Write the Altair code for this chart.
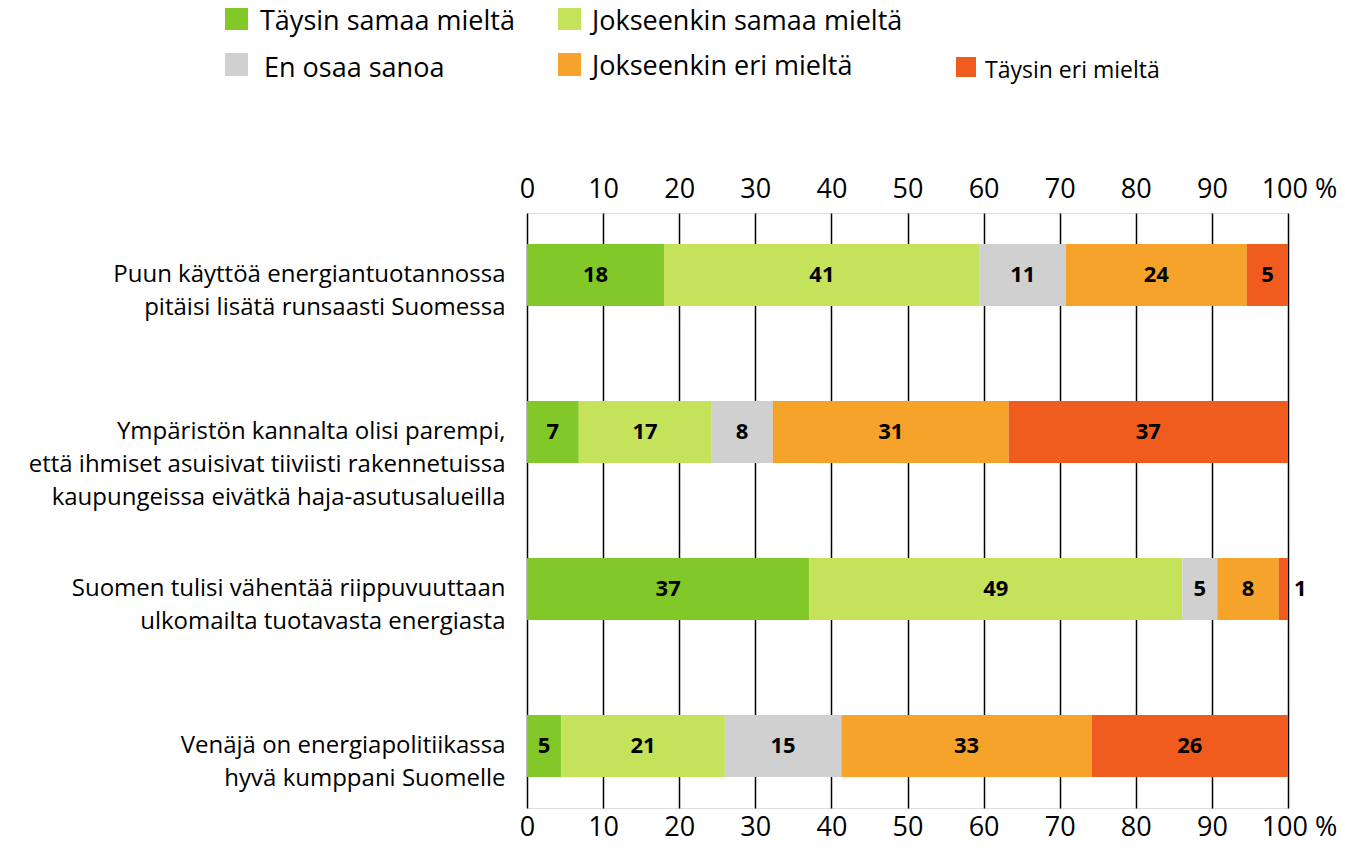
import altair as alt
import pandas as pd

questions = [
    ["Puun käyttöä energiantuotannossa", "pitäisi lisätä runsaasti Suomessa"],
    ["Ympäristön kannalta olisi parempi,", "että ihmiset asuisivat tiiviisti rakennetuissa", "kaupungeissa eivätkä haja-asutusalueilla"],
    ["Suomen tulisi vähentää riippuvuuttaan", "ulkomailta tuotavasta energiasta"],
    ["Venäjä on energiapolitiikassa", "hyvä kumppani Suomelle"],
]
categories = ["Täysin samaa mieltä", "Jokseenkin samaa mieltä", "En osaa sanoa",
              "Jokseenkin eri mieltä", "Täysin eri mieltä"]
colors = ["#82c828", "#c4e25a", "#d0d0d0", "#f6a32b", "#f05c1e"]

# shares (%) as drawn, per question, in category order
values = [
    [18.0, 41.5, 11.3, 23.8, 5.4],
    [6.8, 17.4, 8.1, 31.0, 36.7],
    [37.1, 49.0, 4.6, 8.1, 1.2],
    [4.5, 21.5, 15.3, 32.9, 25.8],
]
# printed labels
labels = [
    [18, 41, 11, 24, 5],
    [7, 17, 8, 31, 37],
    [37, 49, 5, 8, 1],
    [5, 21, 15, 33, 26],
]
x_ticks = [0, 10, 20, 30, 40, 50, 60, 70, 80, 90, 100]

q_names = ["|".join(q) for q in questions]
rows = []
for qi, q in enumerate(q_names):
    for ci, c in enumerate(categories):
        rows.append({"question": q, "category": c, "order": ci,
                     "value": values[qi][ci], "label": str(labels[qi][ci])})
df = pd.DataFrame(rows)

FONT = "Open Sans"

color_scale = alt.Scale(domain=categories, range=colors)
y_enc = alt.Y("question:N", sort=q_names,
              scale=alt.Scale(paddingInner=0.605, paddingOuter=0.197),
              axis=alt.Axis(title=None, labelExpr="split(datum.label, '|')",
                            labelFont=FONT, labelFontSize=24, labelLineHeight=33,
                            labelColor="black", labelPadding=22, labelLimit=600,
                            ticks=False, domain=False, labelAlign="right",
                            labelBaseline="middle"))

base = alt.Chart(df).transform_stack(
    stack="value", groupby=["question"], as_=["x0", "x1"],
    sort=[alt.SortField("order", order="ascending")]
).transform_calculate(mid="(datum.x0 + datum.x1) / 2")


def x_axis(orient, pad, grid):
    return alt.Axis(orient=orient, values=x_ticks,
                    labelExpr="datum.value == 100 ? '100 %' : datum.label",
                    labelFont=FONT, labelFontSize=27, labelColor="black",
                    labelPadding=pad, ticks=False, domain=False, title=None,
                    labelFlush=False, labelOverlap=False,
                    labelOffset={"condition": {"test": "datum.value == 100", "value": 11}, "value": 0},
                    grid=grid, gridColor="black", gridWidth=1.5, gridOpacity=1)


xscale = alt.Scale(domain=[0, 100], nice=False, zero=True)

bars = base.mark_bar(size=62).encode(
    x=alt.X("x0:Q", scale=xscale, axis=x_axis("bottom", 6, True)),
    x2="x1:Q",
    y=y_enc,
    color=alt.Color("category:N", scale=color_scale, legend=None),
)

inside = base.transform_filter("datum.value >= 2").mark_text(
    font=FONT, fontSize=22, fontWeight="bold", color="black", baseline="middle"
).encode(
    x=alt.X("mid:Q", scale=xscale, axis=x_axis("top", 10, False)),
    y=y_enc,
    text="label:N",
)

outside = base.transform_filter("datum.value < 2").mark_text(
    font=FONT, fontSize=22, fontWeight="bold", color="black", baseline="middle",
    align="left", dx=6
).encode(
    x=alt.X("x1:Q", scale=xscale, axis=None),
    y=y_enc,
    text="label:N",
)

# legend (manual layout: two rows)
leg_items = [
    # (category index, swatch x, swatch y, swatch size, text x, text baseline y, font size)
    (0, -302, -206, 23, -267, -183, 27),
    (1, 31, -206, 23, 65, -183, 27),
    (2, -302, -160, 23, -263, -136, 27),
    (3, 31, -160, 23, 65, -138, 27),
    (4, 429, -156, 20, 458, -135, 23),
]
leg_df = pd.DataFrame({"category": categories})
legend_layers = []
for ci, sx, sy, ss, tx, ty, fs in leg_items:
    one = alt.Chart(leg_df).transform_filter(alt.datum.category == categories[ci])
    legend_layers.append(one.mark_rect().encode(
        x=alt.value(sx), x2=alt.value(sx + ss), y=alt.value(sy), y2=alt.value(sy + ss),
        color=alt.Color("category:N", scale=color_scale, legend=None)))
    legend_layers.append(one.mark_text(align="left", baseline="alphabetic", font=FONT,
                                       fontSize=fs, color="black").encode(
        x=alt.value(tx), y=alt.value(ty), text="category:N"))

chart = alt.layer(bars, inside, outside, *legend_layers).resolve_axis(
    x="independent"
).properties(
    width=761, height=595,
    padding={"left": 519, "top": 205, "right": 49, "bottom": 34},
    autosize=alt.AutoSizeParams(type="none"),
).configure_view(stroke=None).configure(background="white")

chart.save("out.html", embed_options={"renderer": "svg", "actions": False})
